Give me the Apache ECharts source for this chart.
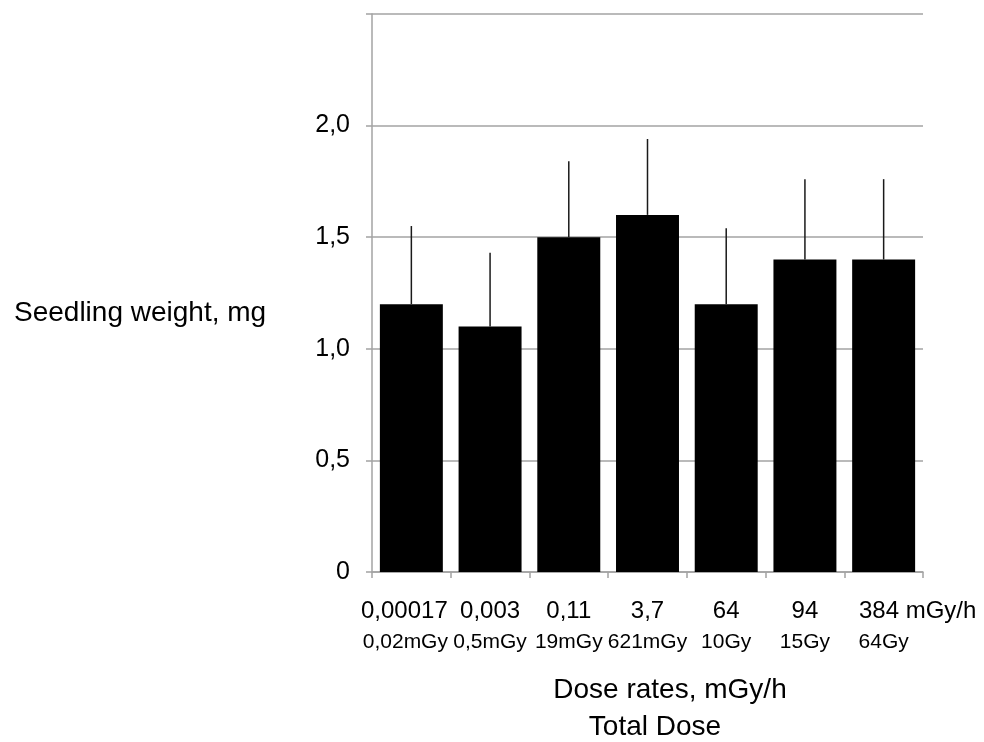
<!DOCTYPE html>
<html>
<head>
<meta charset="utf-8">
<script src="https://cdn.jsdelivr.net/npm/echarts@6/dist/echarts.min.js"></script>
<style>
  html, body { margin: 0; padding: 0; background: #fff; }
  #chart { width: 984px; height: 742px; }
</style>
</head>
<body>
<div id="chart"></div>
<script>
// dose rates (line 1) and total doses (line 2) under each bar
var doseRates = ['0,00017', '0,003', '0,11', '3,7', '64', '94', '384 mGy/h'];
var totalDoses = ['0,02mGy', '0,5mGy', '19mGy', '621mGy', '10Gy', '15Gy', '64Gy'];
// seedling weight, mg
var weights = [1.2, 1.1, 1.5, 1.6, 1.2, 1.4, 1.4];
// top of the error whisker
var errTops = [1.55, 1.43, 1.84, 1.94, 1.54, 1.76, 1.76];

var chart = echarts.init(document.getElementById('chart'));
var font = 'Liberation Sans';
var gridColor = '#a3a3a3';

var errData = weights.map(function (w, i) {
  return [i, w, errTops[i]];
});

var option = {
  animation: false,
  backgroundColor: '#fff',
  textStyle: { fontFamily: font, color: '#000' },
  grid: {
    left: 372,
    right: 61,
    top: 14,
    bottom: 170,
    containLabel: false
  },
  xAxis: {
    type: 'category',
    data: doseRates,
    axisLine: { lineStyle: { color: gridColor, width: 1.5 } },
    axisTick: { show: true, length: 6, lineStyle: { color: gridColor, width: 1.5 } },
    axisLabel: {
      margin: 22,
      interval: 0,
      formatter: function (v, i) {
        // first label sits a little left, last one runs on with its unit
        if (i === 0) {
          return '{a|' + v + '}{padA| }\n{b|' + totalDoses[i] + '}{padB| }';
        }
        if (i === doseRates.length - 1) {
          return '{pad| }{a|' + v + '}\n{b|' + totalDoses[i] + '}';
        }
        return '{a|' + v + '}\n{b|' + totalDoses[i] + '}';
      },
      rich: {
        a: { fontFamily: font, fontSize: 24, lineHeight: 34, color: '#000' },
        b: { fontFamily: font, fontSize: 21, lineHeight: 28, color: '#000' },
        pad: { width: 68, fontSize: 24, lineHeight: 34 },
        padA: { width: 14, fontSize: 24, lineHeight: 34 },
        padB: { width: 12, fontSize: 21, lineHeight: 28 }
      }
    }
  },
  yAxis: {
    type: 'value',
    min: 0,
    max: 2.5,
    interval: 0.5,
    axisLine: { show: true, lineStyle: { color: gridColor, width: 1.5 } },
    axisTick: { show: true, length: 6, lineStyle: { color: gridColor, width: 1.5 } },
    splitLine: { show: true, lineStyle: { color: gridColor, width: 1.5 } },
    axisLabel: {
      margin: 22,
      fontFamily: font,
      fontSize: 25,
      color: '#000',
      formatter: function (v) {
        if (v >= 2.5) return '';
        if (v === 0) return '0';
        return v.toFixed(1).replace('.', ',');
      }
    }
  },
  graphic: [
    {
      type: 'text',
      left: 14,
      top: 299,
      style: { text: 'Seedling weight, mg', font: '28px "Liberation Sans"', fill: '#000' }
    },
    {
      type: 'text',
      x: 670,
      y: 690,
      style: { text: 'Dose rates, mGy/h', font: '28px "Liberation Sans"', fill: '#000', textAlign: 'center', textVerticalAlign: 'middle' }
    },
    {
      type: 'text',
      x: 655,
      y: 727,
      style: { text: 'Total Dose', font: '28px "Liberation Sans"', fill: '#000', textAlign: 'center', textVerticalAlign: 'middle' }
    }
  ],
  series: [
    {
      type: 'bar',
      data: weights,
      barWidth: '80%',
      itemStyle: { color: '#000' },
      silent: true
    },
    {
      type: 'custom',
      data: errData,
      silent: true,
      z: 5,
      renderItem: function (params, api) {
        var p0 = api.coord([api.value(0), api.value(1)]);
        var p1 = api.coord([api.value(0), api.value(2)]);
        return {
          type: 'line',
          shape: { x1: p0[0], y1: p0[1], x2: p1[0], y2: p1[1] },
          style: { stroke: '#1a1a1a', lineWidth: 1.5 }
        };
      }
    }
  ]
};

chart.setOption(option);
</script>
</body>
</html>
